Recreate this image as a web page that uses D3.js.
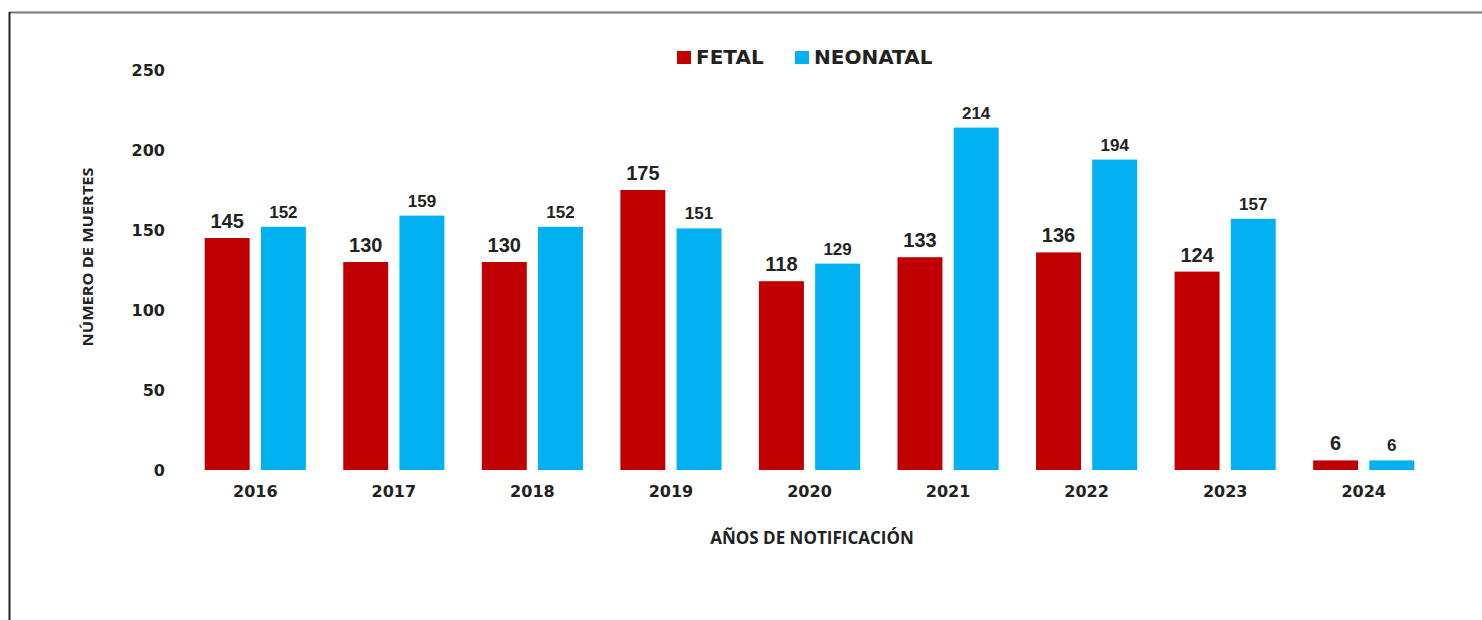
<!DOCTYPE html>
<html><head><meta charset="utf-8">
<script src="https://cdn.jsdelivr.net/npm/d3@7"></script>
<style>body{margin:0;background:#fff}svg{display:block}</style>
</head><body><svg id="c" width="1482" height="620"></svg>
<script>
const years = ["2016","2017","2018","2019","2020","2021","2022","2023","2024"];
const fetal = [145,130,130,175,118,133,136,124,6];
const neonatal = [152,159,152,151,129,214,194,157,6];
const seriesNames = ["FETAL","NEONATAL"];
const yTicks = [0,50,100,150,200,250];
const colors = ["#C00000","#00B0F0"];

const svg = d3.select("#c");
// frame
svg.append("line").attr("x1",9).attr("x2",1482).attr("y1",12.5).attr("y2",12.5).attr("stroke","#777").attr("stroke-width",2);
svg.append("line").attr("x1",9.5).attr("x2",9.5).attr("y1",12).attr("y2",620).attr("stroke","#222").attr("stroke-width",2);

const x = d3.scaleBand().domain(years).range([186,1433]).paddingInner(0.27).paddingOuter(0.135);
const xs = d3.scaleBand().domain([0,1]).range([0,x.bandwidth()]).paddingInner(0.2);
const y = d3.scaleLinear().domain([0,250]).range([470,70]);

// y axis
const ya = svg.append("g").attr("transform","translate(165,0)")
  .call(d3.axisLeft(y).tickValues(yTicks).tickSize(0).tickPadding(0));
ya.select(".domain").remove();
ya.selectAll("text").attr("font-family","DejaVu Sans").attr("font-weight","bold").attr("font-size",16).attr("fill","#222").attr("dy","0.35em");

// x axis
const xa = svg.append("g").attr("transform","translate(0,470)")
  .call(d3.axisBottom(x).tickSize(0).tickPadding(16));
xa.select(".domain").remove();
xa.selectAll("text").attr("font-family","DejaVu Sans").attr("font-weight","bold").attr("font-size",16).attr("fill","#222");

const data = years.map((yr,i)=>({yr, vals:[fetal[i], neonatal[i]]}));
const g = svg.selectAll("g.cat").data(data).join("g").attr("class","cat")
  .attr("transform",d=>`translate(${x(d.yr)},0)`);
g.selectAll("rect").data(d=>d.vals.map((v,k)=>({v,k}))).join("rect")
  .attr("x",d=>xs(d.k)).attr("width",xs.bandwidth())
  .attr("y",d=>y(d.v)).attr("height",d=>y(0)-y(d.v))
  .attr("fill",d=>colors[d.k]);
g.selectAll("text.lbl").data(d=>d.vals.map((v,k)=>({v,k}))).join("text").attr("class","lbl")
  .attr("x",d=>xs(d.k)+xs.bandwidth()/2).attr("y",d=>y(d.v)-(d.k===0?10:9))
  .attr("text-anchor","middle").attr("font-family","Liberation Sans, Arial").attr("font-weight","bold")
  .attr("font-size",d=>d.k===0?20:17).attr("fill","#222").text(d=>d.v);

// axis titles
svg.append("text").attr("transform","translate(93,257) rotate(-90)").attr("text-anchor","middle")
  .attr("font-family","Open Sans").attr("font-weight","bold").attr("font-size",15).attr("fill","#222")
  .attr("textLength",179).attr("lengthAdjust","spacingAndGlyphs").text("NÚMERO DE MUERTES");
svg.append("text").attr("x",812).attr("y",544).attr("text-anchor","middle")
  .attr("font-family","Open Sans").attr("font-weight","bold").attr("font-size",17).attr("fill","#222").text("AÑOS DE NOTIFICACIÓN");

// legend
const leg = [{n:seriesNames[0],x:677,c:colors[0]},{n:seriesNames[1],x:795,c:colors[1]}];
leg.forEach(l=>{
  svg.append("rect").attr("x",l.x).attr("y",51).attr("width",14).attr("height",13).attr("fill",l.c);
  svg.append("text").attr("x",l.x+19).attr("y",64).attr("font-family","DejaVu Sans").attr("font-weight","bold").attr("font-size",20).attr("fill","#222").text(l.n);
});
</script></body></html>
